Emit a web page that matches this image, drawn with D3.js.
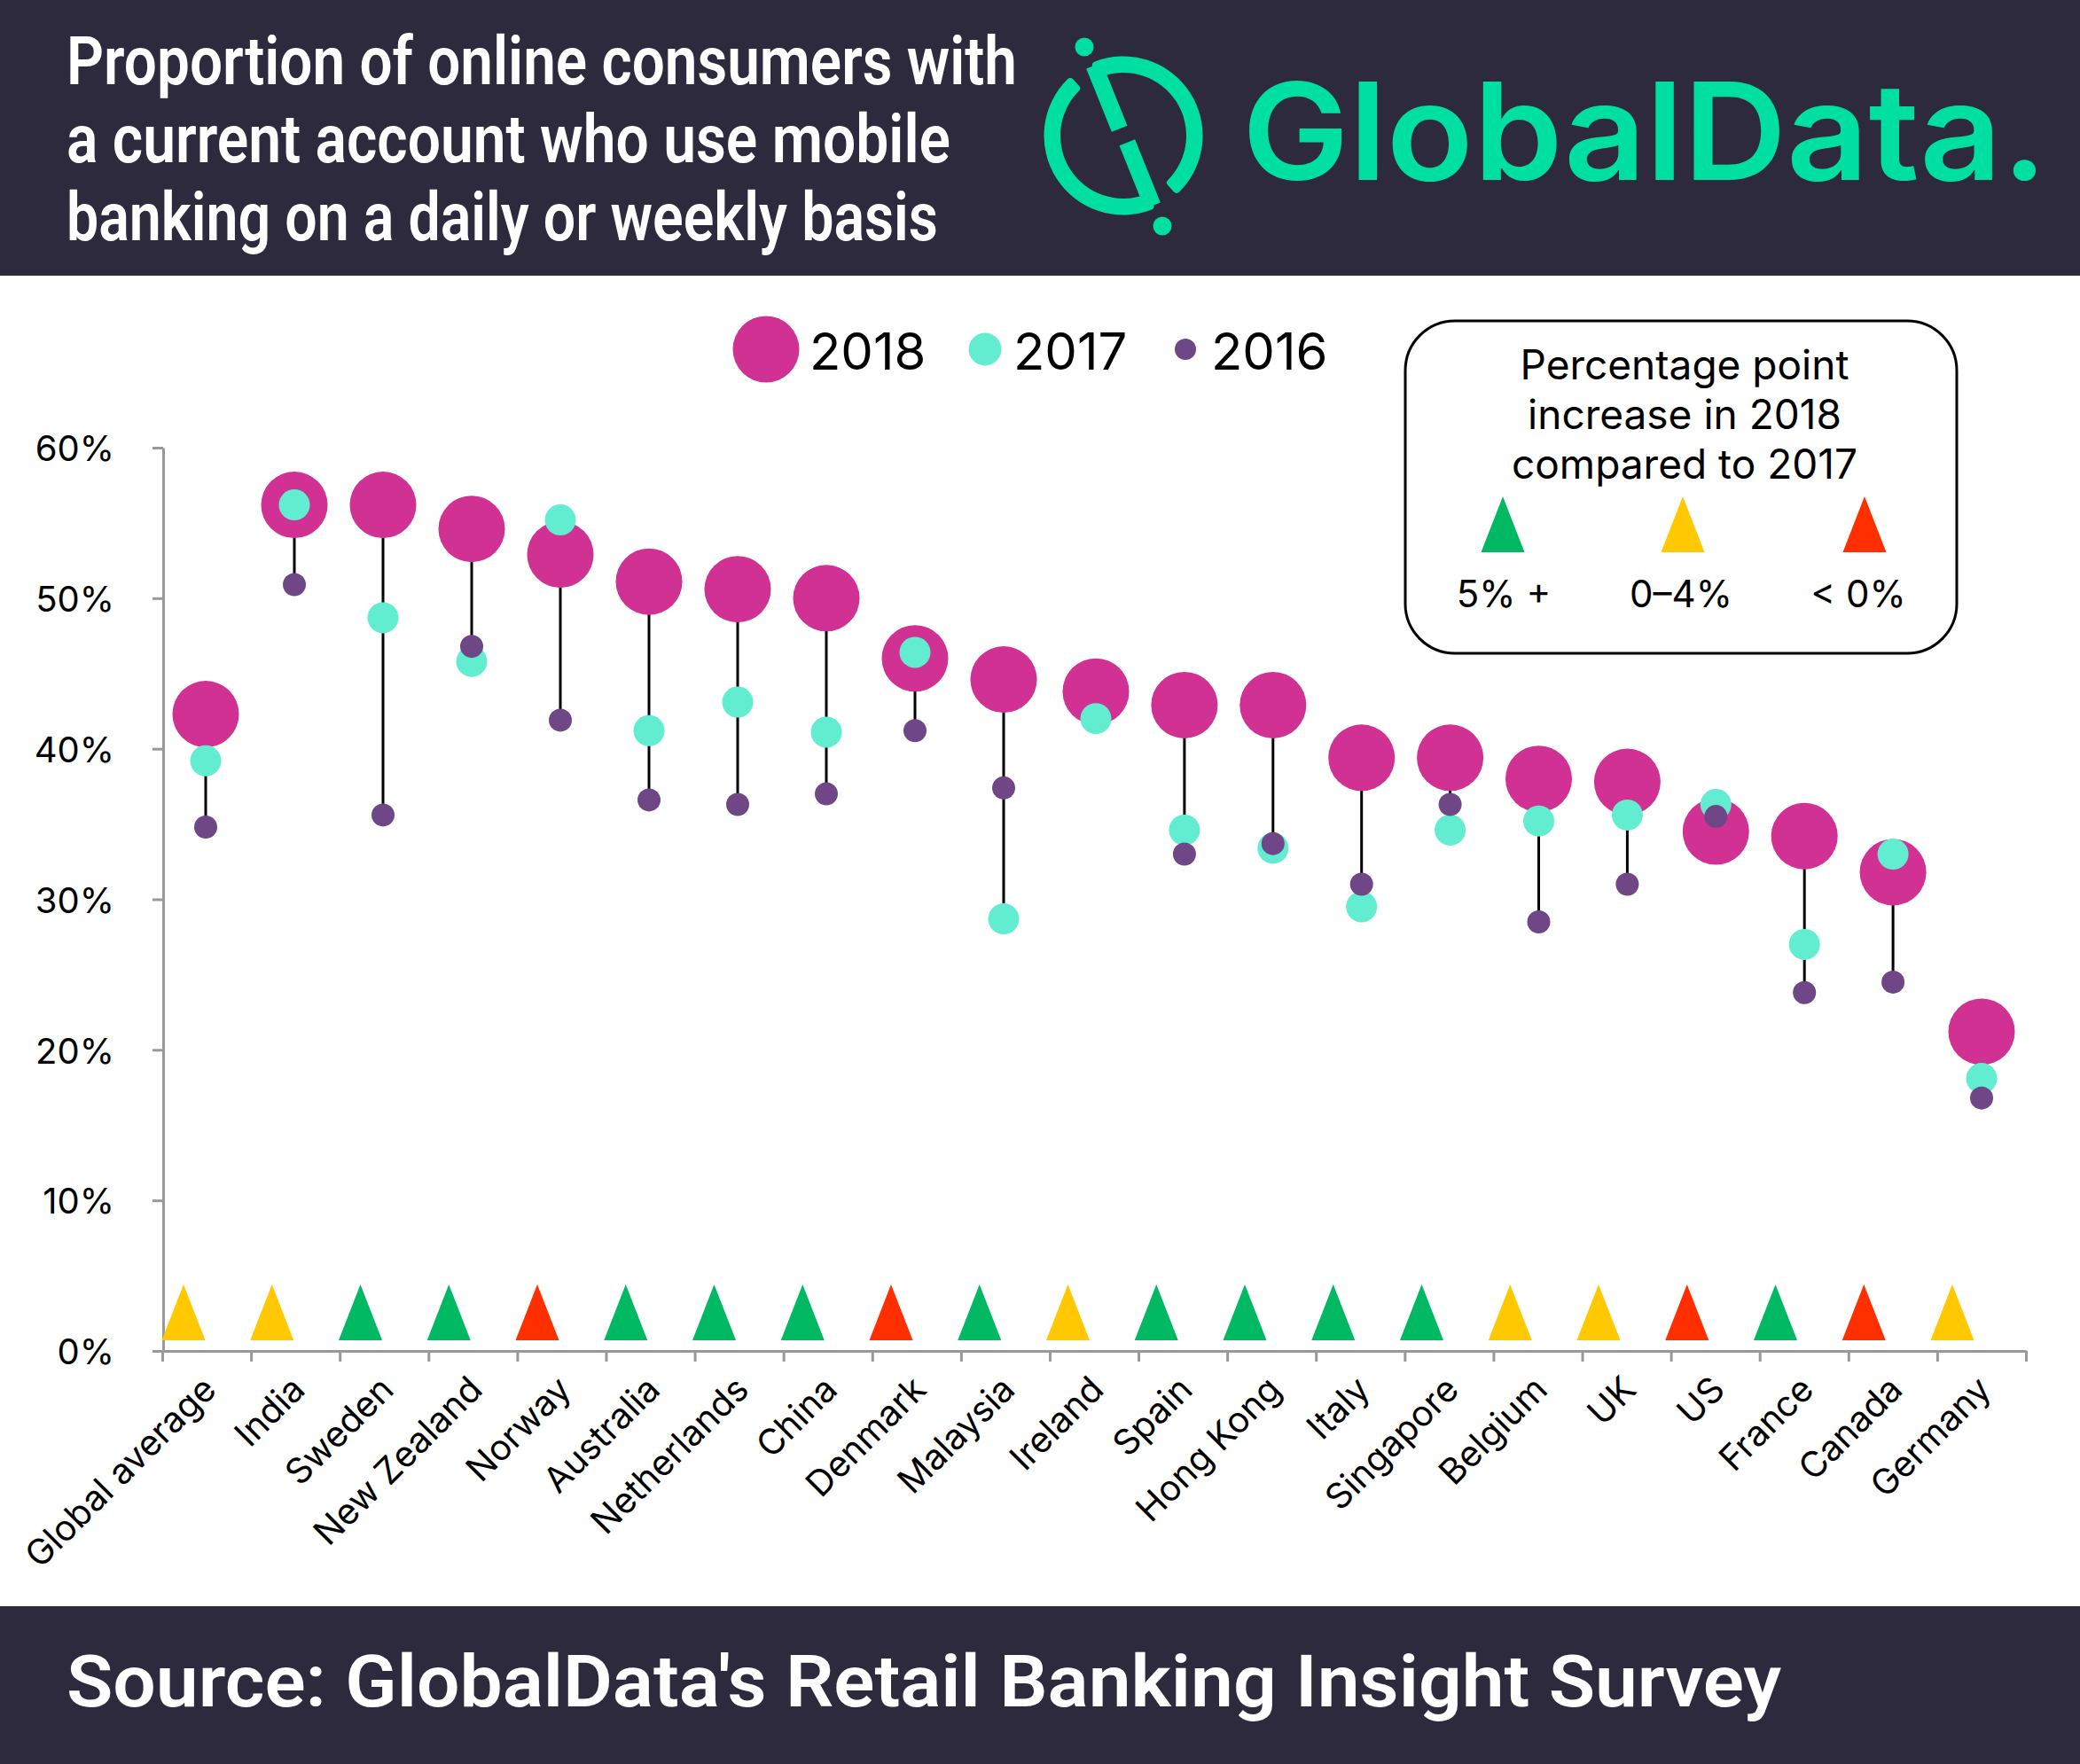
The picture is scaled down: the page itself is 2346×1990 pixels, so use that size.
<!DOCTYPE html>
<html>
<head>
<meta charset="utf-8">
<script src="https://cdnjs.cloudflare.com/ajax/libs/d3/7.8.5/d3.min.js"></script>
<style>
  html, body { margin: 0; padding: 0; background: #fff; }
  svg { display: block; }
  text { font-family: Inter, Roboto, sans-serif; fill: #000; }
</style>
</head>
<body>
<div id="chart"></div>
<script>
const categories = ['Global average', 'India', 'Sweden', 'New Zealand', 'Norway', 'Australia', 'Netherlands', 'China', 'Denmark', 'Malaysia', 'Ireland', 'Spain', 'Hong Kong', 'Italy', 'Singapore', 'Belgium', 'UK', 'US', 'France', 'Canada', 'Germany'];
const values2018 = [42.3, 56.2, 56.2, 54.6, 52.9, 51.1, 50.6, 50.0, 46.0, 44.6, 43.8, 42.9, 42.9, 39.4, 39.4, 38.0, 37.8, 34.5, 34.2, 31.8, 21.2];
const values2017 = [39.2, 56.2, 48.7, 45.8, 55.2, 41.2, 43.1, 41.1, 46.4, 28.7, 42.0, 34.6, 33.4, 29.5, 34.6, 35.2, 35.6, 36.3, 27.0, 33.0, 18.1];
const values2016 = [34.8, 50.9, 35.6, 46.8, 41.9, 36.6, 36.3, 37.0, 41.2, 37.4, null, 33.0, 33.7, 31.0, 36.3, 28.5, 31.0, 35.5, 23.8, 24.5, 16.8];
const changeBand = ['mid', 'mid', 'high', 'high', 'low', 'high', 'high', 'high', 'low', 'high', 'mid', 'high', 'high', 'high', 'high', 'mid', 'mid', 'low', 'high', 'low', 'mid'];
const yTicks = [0, 10, 20, 30, 40, 50, 60];
const titleLines = ['Proportion of online consumers with', 'a current account who use mobile', 'banking on a daily or weekly basis'];
const titleWidths = [1072, 997, 983];
const boxLines = ['Percentage point', 'increase in 2018', 'compared to 2017'];

const width = 2346;
const height = 1990;
const dark = '#2e2a3e';
const logoGreen = '#00dfa2';
const colors = { 2018: '#d03192', 2017: '#62edd0', 2016: '#6f4787' };
const bandColors = { high: '#00b962', mid: '#ffc800', low: '#ff2f00' };

const svg = d3.select('#chart').append('svg').attr('width', width).attr('height', height);

// header and footer
svg.append('rect').attr('width', width).attr('height', 311).attr('fill', dark);
svg.append('rect').attr('y', 1812).attr('width', width).attr('height', 178).attr('fill', dark);

svg.selectAll('.title').data(titleLines).enter().append('text')
  .attr('class', 'title')
  .attr('x', 75)
  .attr('y', (d, i) => 95 + i * 88)
  .attr('font-size', 76)
  .attr('font-weight', 600)
  .attr('textLength', (d, i) => titleWidths[i])
  .attr('lengthAdjust', 'spacingAndGlyphs')
  .style('font-family', 'Roboto')
  .style('fill', '#fff')
  .text(d => d);

svg.append('text')
  .attr('x', 75).attr('y', 1925)
  .attr('font-size', 82).attr('font-weight', 600)
  .attr('textLength', 1934).attr('lengthAdjust', 'spacingAndGlyphs')
  .style('font-family', 'Roboto')
  .style('fill', '#fff')
  .text("Source: GlobalData's Retail Banking Insight Survey");

// logo, ring with two stems and two dots
const logo = svg.append('g').attr('transform', 'translate(1267,153)');
const ring = d3.arc().innerRadius(71).outerRadius(89.5).cornerRadius(4);
[[-0.42, 2.41], [2.73, 5.555]].forEach(a => {
  logo.append('path')
    .attr('d', ring({ startAngle: a[0], endAngle: a[1] }))
    .attr('fill', logoGreen);
});
logo.append('line').attr('x1', -33).attr('y1', -79).attr('x2', -4.3).attr('y2', -7.7)
  .attr('stroke', logoGreen).attr('stroke-width', 19);
logo.append('line').attr('x1', 33).attr('y1', 79).attr('x2', 4.3).attr('y2', 7.7)
  .attr('stroke', logoGreen).attr('stroke-width', 19);
logo.append('circle').attr('cx', -44).attr('cy', -100).attr('r', 10.5).attr('fill', logoGreen);
logo.append('circle').attr('cx', 44).attr('cy', 102).attr('r', 10.5).attr('fill', logoGreen);

svg.append('text')
  .attr('x', 1401).attr('y', 203)
  .attr('font-size', 152).attr('font-weight', 600)
  .attr('textLength', 908).attr('lengthAdjust', 'spacingAndGlyphs')
  .style('fill', logoGreen)
  .text('GlobalData.');

// scales. the original's dots jump a little between Malaysia and Ireland
const xBand = d3.scaleBand().domain(categories).range([183, 2285]);
const xEdges = d3.scaleLinear().domain([0, categories.length]).range([183, 2285]);
const xDot = d3.scaleLinear().domain([0, 9, 10, 20]).range([232, 1132, 1236, 2235]);
const xTri = d3.scalePoint().domain(categories).range([207, 2202]);
const y = d3.scaleLinear().domain([0, 60]).range([1524, 505]);

// axes
const yAxis = svg.append('g')
  .attr('transform', 'translate(184,0)')
  .call(d3.axisLeft(y).tickValues(yTicks).tickFormat(d => d + '%').tickSize(12).tickPadding(43).tickSizeOuter(0));
yAxis.selectAll('line, path').attr('stroke', '#999').attr('stroke-width', 3);
yAxis.selectAll('text').attr('font-size', 40).attr('y', 2).style('font-family', 'Inter');

const xTicks = svg.append('g')
  .attr('transform', 'translate(0,1524)')
  .call(d3.axisBottom(xEdges).ticks(categories.length).tickFormat('').tickSize(12).tickSizeOuter(0));
xTicks.selectAll('line, path').attr('stroke', '#999').attr('stroke-width', 3);

const xAxis = svg.append('g')
  .attr('transform', 'translate(0,1524)')
  .call(d3.axisBottom(xBand).tickSize(0));
xAxis.select('.domain').remove();
xAxis.selectAll('text')
  .attr('font-size', 40)
  .style('font-family', 'Inter')
  .attr('text-anchor', 'end')
  .attr('dx', 0).attr('dy', 0)
  .attr('y', 0).attr('x', 0)
  .attr('transform', 'translate(13,46) rotate(-45)');

// hi-lo lines
svg.selectAll('.stem').data(categories).enter().append('line')
  .attr('class', 'stem')
  .attr('x1', (d, i) => xDot(i)).attr('x2', (d, i) => xDot(i))
  .attr('y1', (d, i) => y(d3.max([values2018[i], values2017[i], values2016[i]])))
  .attr('y2', (d, i) => y(d3.min([values2018[i], values2017[i], values2016[i]])))
  .attr('stroke', '#000').attr('stroke-width', 3);

// dots, largest first
[[2018, values2018, 37.5], [2017, values2017, 17.5], [2016, values2016, 13]].forEach(s => {
  svg.selectAll('.dot' + s[0]).data(categories).enter()
    .filter((d, i) => s[1][i] !== null)
    .append('circle')
    .attr('class', 'dot' + s[0])
    .attr('cx', d => xDot(categories.indexOf(d)))
    .attr('cy', d => y(s[1][categories.indexOf(d)]))
    .attr('r', s[2])
    .attr('fill', colors[s[0]]);
});

// change triangles run on their own slightly tighter spacing
const tri = (px, base, w, h) => `M${px - w / 2},${base}L${px},${base - h}L${px + w / 2},${base}Z`;
svg.selectAll('.tri').data(categories).enter().append('path')
  .attr('class', 'tri')
  .attr('d', d => tri(xTri(d), 1512, 49, 63))
  .attr('fill', (d, i) => bandColors[changeBand[i]]);

// series legend
const legendItems = [[2018, 864, 37.5, 913], [2017, 1111, 18.5, 1143], [2016, 1337, 12, 1366]];
legendItems.forEach(l => {
  svg.append('circle').attr('cx', l[1]).attr('cy', 394).attr('r', l[2]).attr('fill', colors[l[0]]);
  svg.append('text').attr('x', l[3]).attr('y', 417).attr('font-size', 58).text(l[0]);
});

// key box
svg.append('rect')
  .attr('x', 1585).attr('y', 362).attr('width', 622).attr('height', 375).attr('rx', 56)
  .attr('fill', '#fff').attr('stroke', '#000').attr('stroke-width', 3);
svg.selectAll('.boxline').data(boxLines).enter().append('text')
  .attr('class', 'boxline')
  .attr('x', 1900)
  .attr('y', (d, i) => 428 + i * 56)
  .attr('text-anchor', 'middle')
  .attr('font-size', 46)
  .text(d => d);
[['high', 1695, 1696, '5% +'], ['mid', 1898, 1896, '0–4%'], ['low', 2103, 2096, '< 0%']].forEach(k => {
  svg.append('path').attr('d', tri(k[1], 623, 49, 63)).attr('fill', bandColors[k[0]]);
  svg.append('text').attr('x', k[2]).attr('y', 685).attr('text-anchor', 'middle').attr('font-size', 42).text(k[3]);
});
</script>
</body>
</html>
